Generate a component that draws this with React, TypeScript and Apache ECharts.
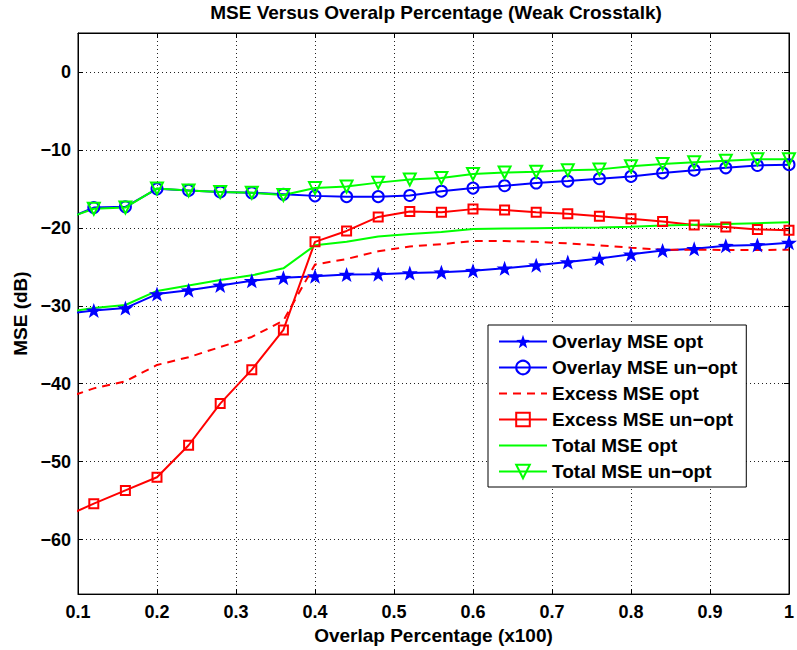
import { useEffect, useRef } from 'react';
import * as echarts from 'echarts';

// Overlap percentage (x100); the first sample lies just left of the visible range
const overlapX = [0.08, 0.12, 0.16, 0.2, 0.24, 0.28, 0.32, 0.36, 0.4, 0.44, 0.48, 0.52, 0.56, 0.6, 0.64, 0.68, 0.72, 0.76, 0.8, 0.84, 0.88, 0.92, 0.96, 1.0];

// MSE in dB
const overlayOpt = [-31.1, -30.6, -30.3, -28.5, -28.0, -27.4, -26.8, -26.4, -26.2, -26.0, -25.95, -25.8, -25.7, -25.5, -25.2, -24.8, -24.4, -23.95, -23.4, -22.9, -22.7, -22.3, -22.2, -21.9];
const overlayUnopt = [-19.1, -17.4, -17.3, -15.0, -15.2, -15.4, -15.5, -15.7, -15.9, -16.0, -16.0, -15.85, -15.3, -14.9, -14.6, -14.25, -14.0, -13.7, -13.4, -12.95, -12.6, -12.3, -12.0, -11.9];
const excessOpt = [-42.0, -40.6, -39.7, -37.6, -36.6, -35.3, -34.0, -31.9, -24.7, -24.0, -23.0, -22.4, -22.1, -21.7, -21.7, -21.8, -22.0, -22.25, -22.55, -22.8, -22.8, -22.85, -22.85, -22.8];
const excessUnopt = [-57.2, -55.4, -53.7, -52.0, -47.9, -42.55, -38.2, -33.1, -21.8, -20.4, -18.6, -17.9, -18.0, -17.6, -17.7, -18.0, -18.2, -18.5, -18.85, -19.2, -19.65, -19.9, -20.2, -20.3];
const totalOpt = [-30.9, -30.3, -29.9, -28.1, -27.4, -26.7, -26.1, -25.2, -22.25, -21.8, -21.1, -20.8, -20.55, -20.15, -20.1, -20.05, -20.0, -19.95, -19.85, -19.7, -19.6, -19.5, -19.4, -19.3];
const totalUnopt = [-19.0, -17.55, -17.4, -14.95, -15.2, -15.4, -15.5, -15.8, -14.9, -14.7, -14.2, -13.8, -13.6, -13.1, -12.9, -12.8, -12.6, -12.5, -12.1, -11.8, -11.6, -11.4, -11.2, -11.2];

const seriesNames = [
  'Overlay MSE opt',
  'Overlay MSE un\u2212opt',
  'Excess MSE opt',
  'Excess MSE un\u2212opt',
  'Total MSE opt',
  'Total MSE un\u2212opt',
];

const titleText = 'MSE Versus Overalp Percentage (Weak Crosstalk)';
const xName = 'Overlap Percentage (x100)';
const yName = 'MSE (dB)';

const FONT = '"Liberation Sans", Arial, Helvetica, sans-serif';
const BLUE = '#0000ff';
const RED = '#ff0000';
const GREEN = '#00ff00';
const CLEAR = 'rgba(0,0,0,0)';

const STAR =
  'path://M0,-10L2.35,-3.24L9.51,-3.09L3.8,1.24L5.88,8.09L0,4L-5.88,8.09L-3.8,1.24L-9.51,-3.09L-2.35,-3.24Z';

const pts = (vals: number[]) => overlapX.map((x, i) => [x, vals[i]]);

const fmtY = (v: number) => {
  const r = Math.round(v);
  if (Math.abs(v - r) > 1e-6 || r % 10 !== 0) return '';
  return r < 0 ? '\u2212' + Math.abs(r) : String(r);
};

const fmtX = (v: number) => String(Number(v.toFixed(1)));

export default function App() {
  const ref = useRef<HTMLDivElement>(null);

  useEffect(() => {
    if (!ref.current) return;
    const chart = echarts.init(ref.current, null, { renderer: 'svg' });

    const tickLabel = { color: '#000', fontSize: 18, fontWeight: 'bold' as const, fontFamily: FONT };
    const axisLine = { show: true, onZero: false, lineStyle: { color: '#000', width: 1 } };
    const tick = { show: true, inside: true, length: 5, lineStyle: { color: '#000', width: 1 } };
    const grid = { show: true, lineStyle: { color: '#222', width: 1, type: [1, 3] as number[] } };

    const lineBase = { type: 'line' as const, clip: true, z: 2 };

    chart.setOption({
      animation: false,
      backgroundColor: '#fff',
      graphic: [
        {
          type: 'text',
          x: 436,
          y: 3,
          style: {
            text: titleText,
            textAlign: 'center',
            textVerticalAlign: 'top',
            font: `bold 19px ${FONT}`,
            fill: '#000',
          },
        },
      ],
      grid: {
        left: 78,
        right: 5,
        top: 33,
        bottom: 54,
        show: true,
        borderColor: '#000',
        borderWidth: 1,
        backgroundColor: '#fff',
      },
      legend: {
        orient: 'vertical',
        left: 488,
        top: 325,
        backgroundColor: '#fff',
        borderColor: '#000',
        borderWidth: 1,
        padding: [7, 9, 6, 10],
        itemGap: 7,
        itemWidth: 48,
        itemHeight: 17,
        textStyle: { color: '#000', fontSize: 19, fontWeight: 'bold', fontFamily: FONT },
        data: seriesNames,
      },
      xAxis: [
        {
          type: 'value',
          min: 0.1,
          max: 1,
          interval: 0.1,
          name: xName,
          nameLocation: 'middle',
          nameGap: 27,
          nameTextStyle: { color: '#000', fontSize: 19, fontWeight: 'bold', fontFamily: FONT },
          axisLine,
          axisTick: tick,
          axisLabel: { ...tickLabel, margin: 9, formatter: fmtX },
          splitLine: grid,
        },
        {
          type: 'value',
          position: 'top',
          min: 0.1,
          max: 1,
          interval: 0.1,
          axisLine,
          axisTick: tick,
          axisLabel: { show: false },
          splitLine: { show: false },
        },
      ],
      yAxis: [
        {
          type: 'value',
          min: -67,
          max: 5,
          splitNumber: 7,
          name: yName,
          nameLocation: 'middle',
          nameGap: 47,
          nameTextStyle: { color: '#000', fontSize: 19, fontWeight: 'bold', fontFamily: FONT },
          axisLine,
          axisTick: tick,
          axisLabel: { ...tickLabel, margin: 7, formatter: fmtY, showMinLabel: false, showMaxLabel: false },
          splitLine: grid,
        },
        {
          type: 'value',
          position: 'right',
          min: -67,
          max: 5,
          splitNumber: 7,
          axisLine,
          axisTick: tick,
          axisLabel: { show: false },
          splitLine: { show: false },
        },
      ],
      series: [
        {
          ...lineBase,
          name: seriesNames[0],
          data: pts(overlayOpt),
          symbol: STAR,
          symbolSize: [16, 15],
          lineStyle: { color: BLUE, width: 2 },
          itemStyle: { color: BLUE, borderWidth: 0 },
        },
        {
          ...lineBase,
          name: seriesNames[1],
          data: pts(overlayUnopt),
          symbol: 'circle',
          symbolSize: 11,
          lineStyle: { color: BLUE, width: 2 },
          itemStyle: { color: CLEAR, borderColor: BLUE, borderWidth: 2 },
        },
        {
          ...lineBase,
          name: seriesNames[2],
          data: pts(excessOpt),
          symbol: 'none',
          lineStyle: { color: RED, width: 2, type: [8, 6] },
          itemStyle: { color: CLEAR, borderColor: CLEAR, borderWidth: 0 },
        },
        {
          ...lineBase,
          name: seriesNames[3],
          data: pts(excessUnopt),
          symbol: 'rect',
          symbolSize: 9,
          lineStyle: { color: RED, width: 2 },
          itemStyle: { color: CLEAR, borderColor: RED, borderWidth: 2 },
        },
        {
          ...lineBase,
          name: seriesNames[4],
          data: pts(totalOpt),
          symbol: 'none',
          lineStyle: { color: GREEN, width: 2 },
          itemStyle: { color: CLEAR, borderColor: CLEAR, borderWidth: 0 },
        },
        {
          ...lineBase,
          name: seriesNames[5],
          data: pts(totalUnopt),
          symbol: 'triangle',
          symbolRotate: 180,
          symbolSize: 12,
          lineStyle: { color: GREEN, width: 2 },
          itemStyle: { color: CLEAR, borderColor: GREEN, borderWidth: 2 },
        },
      ],
    });

    return () => chart.dispose();
  }, []);

  return (
    <div
      ref={ref}
      style={{ position: 'fixed', left: 0, top: 0, width: 797, height: 650, background: '#fff' }}
    />
  );
}
